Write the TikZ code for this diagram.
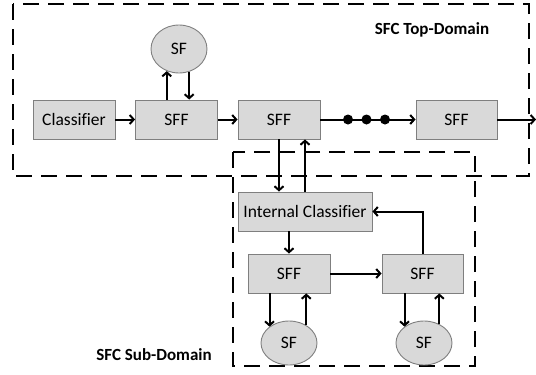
\documentclass[tikz,border=0pt]{standalone}
\usepackage{fontspec}
\setmainfont[Ligatures=NoCommon]{Carlito}
\usetikzlibrary{arrows.meta,shapes.geometric}
\definecolor{boxfill}{HTML}{D9D9D9}
\definecolor{boxline}{HTML}{7F7F7F}
\tikzset{
  box/.style={draw=boxline, line width=0.9pt, fill=boxfill, rectangle, minimum height=39pt, inner sep=0pt, font=\fontsize{17.5}{20}\selectfont},
  sfnode/.style={draw=boxline, line width=0.9pt, fill=boxfill, ellipse, inner sep=0pt, font=\fontsize{17.5}{20}\selectfont},
  arr/.style={line width=2pt, -{Straight Barb[length=4pt,width=9pt]}},
  domainbox/.style={line width=1.1pt, dash pattern=on 16pt off 9pt},
  lab/.style={font=\bfseries\fontsize{17}{20}\selectfont, inner sep=0pt},
  dot/.style={circle, fill=black, minimum size=10pt, inner sep=0pt}
}
\begin{document}
\begin{tikzpicture}[x=1pt,y=-1pt]
\useasboundingbox (0,0) rectangle (536,375);
% domains
\draw[domainbox] (13,4) rectangle (529,176);
\draw[domainbox] (233,152) rectangle (475,366);
\node[lab] (topl) at (432,30) {SFC Top-Domain};
\node[lab] (subl) at (154,355) {SFC Sub-Domain};
% top row
\node[box, minimum width=82pt] (cls) at (74,119.5) {Classifier};
\node[box, minimum width=82pt] (sff1) at (176.5,119.5) {SFF};
\node[box, minimum width=82pt] (sff2) at (279,119.5) {SFF};
\node[box, minimum width=81pt] (sff3) at (456.5,119.5) {SFF};
\node[sfnode, minimum width=56pt, minimum height=48pt] (sfT) at (179,49) {SF};
\coordinate (out) at (536,119.5);
% sub domain
\node[box, minimum width=134pt] (ic) at (305,211.5) {Internal Classifier};
\node[box, minimum width=82pt] (sff4) at (289,273.5) {SFF};
\node[box, minimum width=81pt] (sff5) at (422.5,273.5) {SFF};
\node[sfnode, minimum width=56pt, minimum height=44pt] (sfL) at (289,343) {SF};
\node[sfnode, minimum width=56pt, minimum height=44pt] (sfR) at (424,343) {SF};
% top connectors
\draw[arr] (cls) -- (sff1);
\draw[arr] (sff1) -- (sff2);
\draw[arr] (sff2) -- (sff3);
\draw[arr] (sff3) -- (out);
\node[dot] (d1) at (348,119.5) {};
\node[dot] (d2) at (366.5,119.5) {};
\node[dot] (d3) at (385,119.5) {};
\draw[arr] (sfT.241 |- sff1.north) -- (sfT.241);
\draw[arr] (sfT.-66) -- (sfT.-66 |- sff1.north);
% between domains
\draw[arr] (sff2.south) -- (sff2.south |- ic.north);
\draw[arr] (ic.north) -- (ic.north |- sff2.south);
% sub connectors
\draw[arr] (sff4.north |- ic.south) -- (sff4.north);
\draw[arr] (sff4) -- (sff5);
\draw[arr] (sff5.north) |- (ic.east);
\draw[arr] (sfL.140 |- sff4.south) -- (sfL.140);
\draw[arr] (sfL.46) -- (sfL.46 |- sff4.south);
\draw[arr] (sfR.140 |- sff5.south) -- (sfR.140);
\draw[arr] (sfR.51) -- (sfR.51 |- sff5.south);
\end{tikzpicture}
\end{document}
